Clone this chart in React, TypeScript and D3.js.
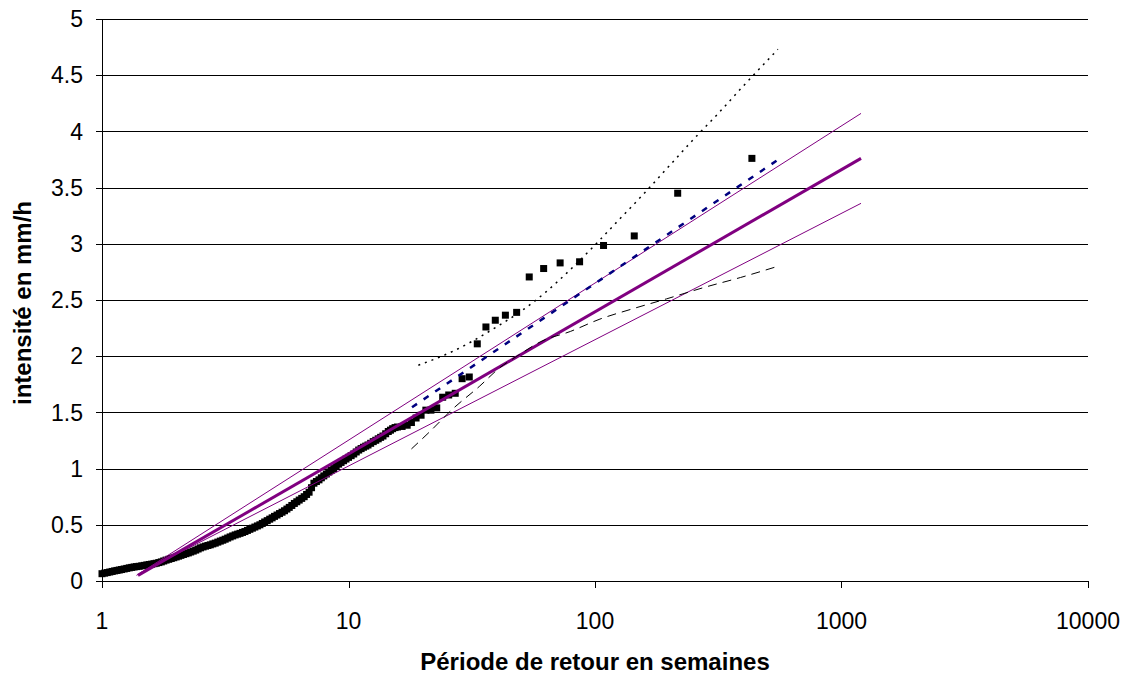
import React from "react";
import * as d3 from "d3";

// Observed return periods (weeks) and intensities (mm/h)
const periods = [
  1.0, 1.025, 1.05, 1.075, 1.1, 1.125, 1.15, 1.175, 1.2, 1.23, 1.26, 1.29, 1.32, 1.35, 1.38, 1.415,
  1.45, 1.485, 1.52, 1.555, 1.59, 1.625, 1.66, 1.7, 1.74, 1.78, 1.82, 1.865, 1.91, 1.955,
  2.0, 2.045, 2.09, 2.14, 2.19, 2.24, 2.29, 2.345, 2.4, 2.455, 2.51, 2.57, 2.63, 2.69, 2.75,
  2.815, 2.88, 2.95, 3.02, 3.09, 3.16, 3.235, 3.31, 3.39, 3.47, 3.55, 3.63, 3.715, 3.8, 3.89,
  3.98, 4.075, 4.17, 4.27, 4.37, 4.47, 4.57, 4.68, 4.79, 4.9, 5.01, 5.13, 5.25, 5.375, 5.5,
  5.625, 5.75, 5.89, 6.03, 6.17, 6.31, 6.46, 6.61, 6.76, 6.92, 7.08, 7.24, 7.41, 7.59, 7.76,
  7.94, 8.13, 8.32, 8.51, 8.71, 8.91, 9.12, 9.33, 9.55, 9.77, 10.0, 10.25, 10.5, 10.75, 11.0,
  11.25, 11.5, 11.75, 12.0, 12.3, 12.6, 12.9, 13.2, 13.5, 13.8, 14.15, 14.5, 14.8, 15.1, 15.45,
  15.8, 16.5, 17.3, 18.0, 18.8, 19.7, 20.6, 21.6, 22.8, 24.1, 25.5, 27.1, 28.9, 30.9, 33.3,
  36.1, 39.4, 43.3, 48.1, 54.1, 61.9, 72.2, 86.6, 108.3, 144.3, 216.5, 433,
];
const intensities = [
  0.065, 0.07, 0.075, 0.08, 0.085, 0.09, 0.094, 0.098, 0.102, 0.107, 0.112, 0.117, 0.121, 0.125, 0.128, 0.131,
  0.135, 0.139, 0.143, 0.147, 0.15, 0.154, 0.158, 0.164, 0.17, 0.178, 0.186, 0.193, 0.2, 0.207,
  0.214, 0.221, 0.228, 0.236, 0.243, 0.25, 0.258, 0.266, 0.275, 0.285, 0.295, 0.303, 0.31, 0.316, 0.322,
  0.33, 0.337, 0.346, 0.355, 0.363, 0.372, 0.382, 0.392, 0.401, 0.41, 0.417, 0.424, 0.432, 0.44, 0.45,
  0.46, 0.47, 0.48, 0.49, 0.5, 0.512, 0.525, 0.537, 0.55, 0.562, 0.575, 0.587, 0.6, 0.612, 0.625,
  0.64, 0.655, 0.672, 0.69, 0.705, 0.72, 0.735, 0.75, 0.77, 0.79, 0.83, 0.87, 0.885, 0.9, 0.918,
  0.935, 0.952, 0.97, 0.985, 1.0, 1.02, 1.04, 1.055, 1.07, 1.085, 1.1, 1.115, 1.13, 1.148, 1.165,
  1.178, 1.19, 1.2, 1.21, 1.225, 1.24, 1.252, 1.265, 1.278, 1.29, 1.31, 1.33, 1.342, 1.355, 1.365,
  1.37, 1.375, 1.386, 1.41, 1.45, 1.475, 1.52, 1.52, 1.54, 1.635, 1.655, 1.67, 1.8, 1.815, 2.11,
  2.26, 2.32, 2.365, 2.39, 2.705, 2.78, 2.83, 2.84, 2.985, 3.07, 3.45, 3.76,
];

// Fitted law and its confidence lines
const fitT = [1.4, 1200];
const fitV = [0.05, 3.76];
const upperT = [1.38, 1200];
const upperV = [0.05, 4.16];
const lowerT = [1.42, 1200];
const lowerV = [0.07, 3.36];

const blueT = [18.1, 563];
const blueV = [1.546, 3.76];

const dottedT = [19.2, 22.4, 26.6, 31.6, 39.8, 50.1, 63.1, 79.4, 100, 125.9, 158.5, 199.5, 251.2, 316.2, 398.1, 552];
const dottedV = [1.92, 1.975, 2.045, 2.13, 2.26, 2.4, 2.57, 2.77, 2.99, 3.22, 3.45, 3.69, 3.93, 4.16, 4.4, 4.73];

const dashT = [18.0, 21.4, 26.6, 33.9, 40.7, 49.0, 60.3, 79.4, 104.7, 141.3, 195, 275.4, 389, 552];
const dashV = [1.175, 1.33, 1.535, 1.73, 1.89, 2.01, 2.13, 2.22, 2.33, 2.42, 2.51, 2.61, 2.7, 2.8];

const xTicks = [1, 10, 100, 1000, 10000];
const yTicks = [0, 0.5, 1, 1.5, 2, 2.5, 3, 3.5, 4, 4.5, 5];

const W = 1128;
const H = 674;
const L = 102;
const R = 1088;
const T = 19;
const B = 581;

export default function App() {
  const x = d3.scaleLog().domain([1, 10000]).range([L, R]);
  const y = d3.scaleLinear().domain([0, 5]).range([B, T]);

  const mk = (ts: number[], vs: number[]) => ts.map((t, i) => [t, vs[i]] as [number, number]);
  const line = d3
    .line<[number, number]>()
    .x((d) => x(d[0]))
    .y((d) => y(d[1]))
    .curve(d3.curveMonotoneX);

  const font = "'Liberation Sans', Arial, sans-serif";
  const sq = 7;

  return (
    <svg
      width={W}
      height={H}
      style={{ position: "absolute", left: 0, top: 0, background: "#fff" }}
      fontFamily={font}
    >
      <rect x={0} y={0} width={W} height={H} fill="#fff" />
      {/* gridlines */}
      {yTicks.map((t) => (
        <line key={"g" + t} x1={L} x2={R} y1={Math.round(y(t)) + 0.5} y2={Math.round(y(t)) + 0.5} stroke="#000" strokeWidth={1} />
      ))}
      {/* y axis */}
      <line x1={L + 0.5} x2={L + 0.5} y1={Math.round(y(5)) + 0.5} y2={B + 0.5} stroke="#000" />
      {yTicks.map((t) => (
        <g key={"yt" + t}>
          <line x1={L - 6} x2={L} y1={Math.round(y(t)) + 0.5} y2={Math.round(y(t)) + 0.5} stroke="#000" />
          <text x={L - 19} y={y(t)} dy="0.36em" textAnchor="end" fontSize={23} fill="#000">
            {t}
          </text>
        </g>
      ))}
      {/* x axis */}
      {xTicks.map((t) => (
        <g key={"xt" + t}>
          <line x1={Math.round(x(t)) + 0.5} x2={Math.round(x(t)) + 0.5} y1={B} y2={B + 7} stroke="#000" />
          <text x={x(t)} y={B + 48} textAnchor="middle" fontSize={23} fill="#000">
            {t}
          </text>
        </g>
      ))}

      {/* observed points */}
      {periods.map((p, i) => (
        <rect key={"p" + i} x={x(p) - sq / 2} y={y(intensities[i]) - sq / 2} width={sq} height={sq} fill="#000" />
      ))}

      {/* lines */}
      <path d={line(mk(upperT, upperV)) || ""} fill="none" stroke="#800080" strokeWidth={1} />
      <path d={line(mk(lowerT, lowerV)) || ""} fill="none" stroke="#800080" strokeWidth={1} />
      <path d={line(mk(fitT, fitV)) || ""} fill="none" stroke="#800080" strokeWidth={3} />
      <path d={line(mk(blueT, blueV)) || ""} fill="none" stroke="#000080" strokeWidth={2.5} strokeDasharray="6,8" />
      <path d={line(mk(dottedT, dottedV)) || ""} fill="none" stroke="#000" strokeWidth={1.5} strokeDasharray="2,5" />
      <path d={line(mk(dashT, dashV)) || ""} fill="none" stroke="#000" strokeWidth={1} strokeDasharray="9,6" />

      {/* axis titles */}
      <text x={(L + R) / 2} y={670} textAnchor="middle" fontSize={24} fontWeight="bold" fill="#000">
        Période de retour en semaines
      </text>
      <text
        transform={`translate(31, ${(T + B) / 2 + 3}) rotate(-90)`}
        textAnchor="middle"
        fontSize={24}
        fontWeight="bold"
        fill="#000"
      >
        intensité en mm/h
      </text>
    </svg>
  );
}
